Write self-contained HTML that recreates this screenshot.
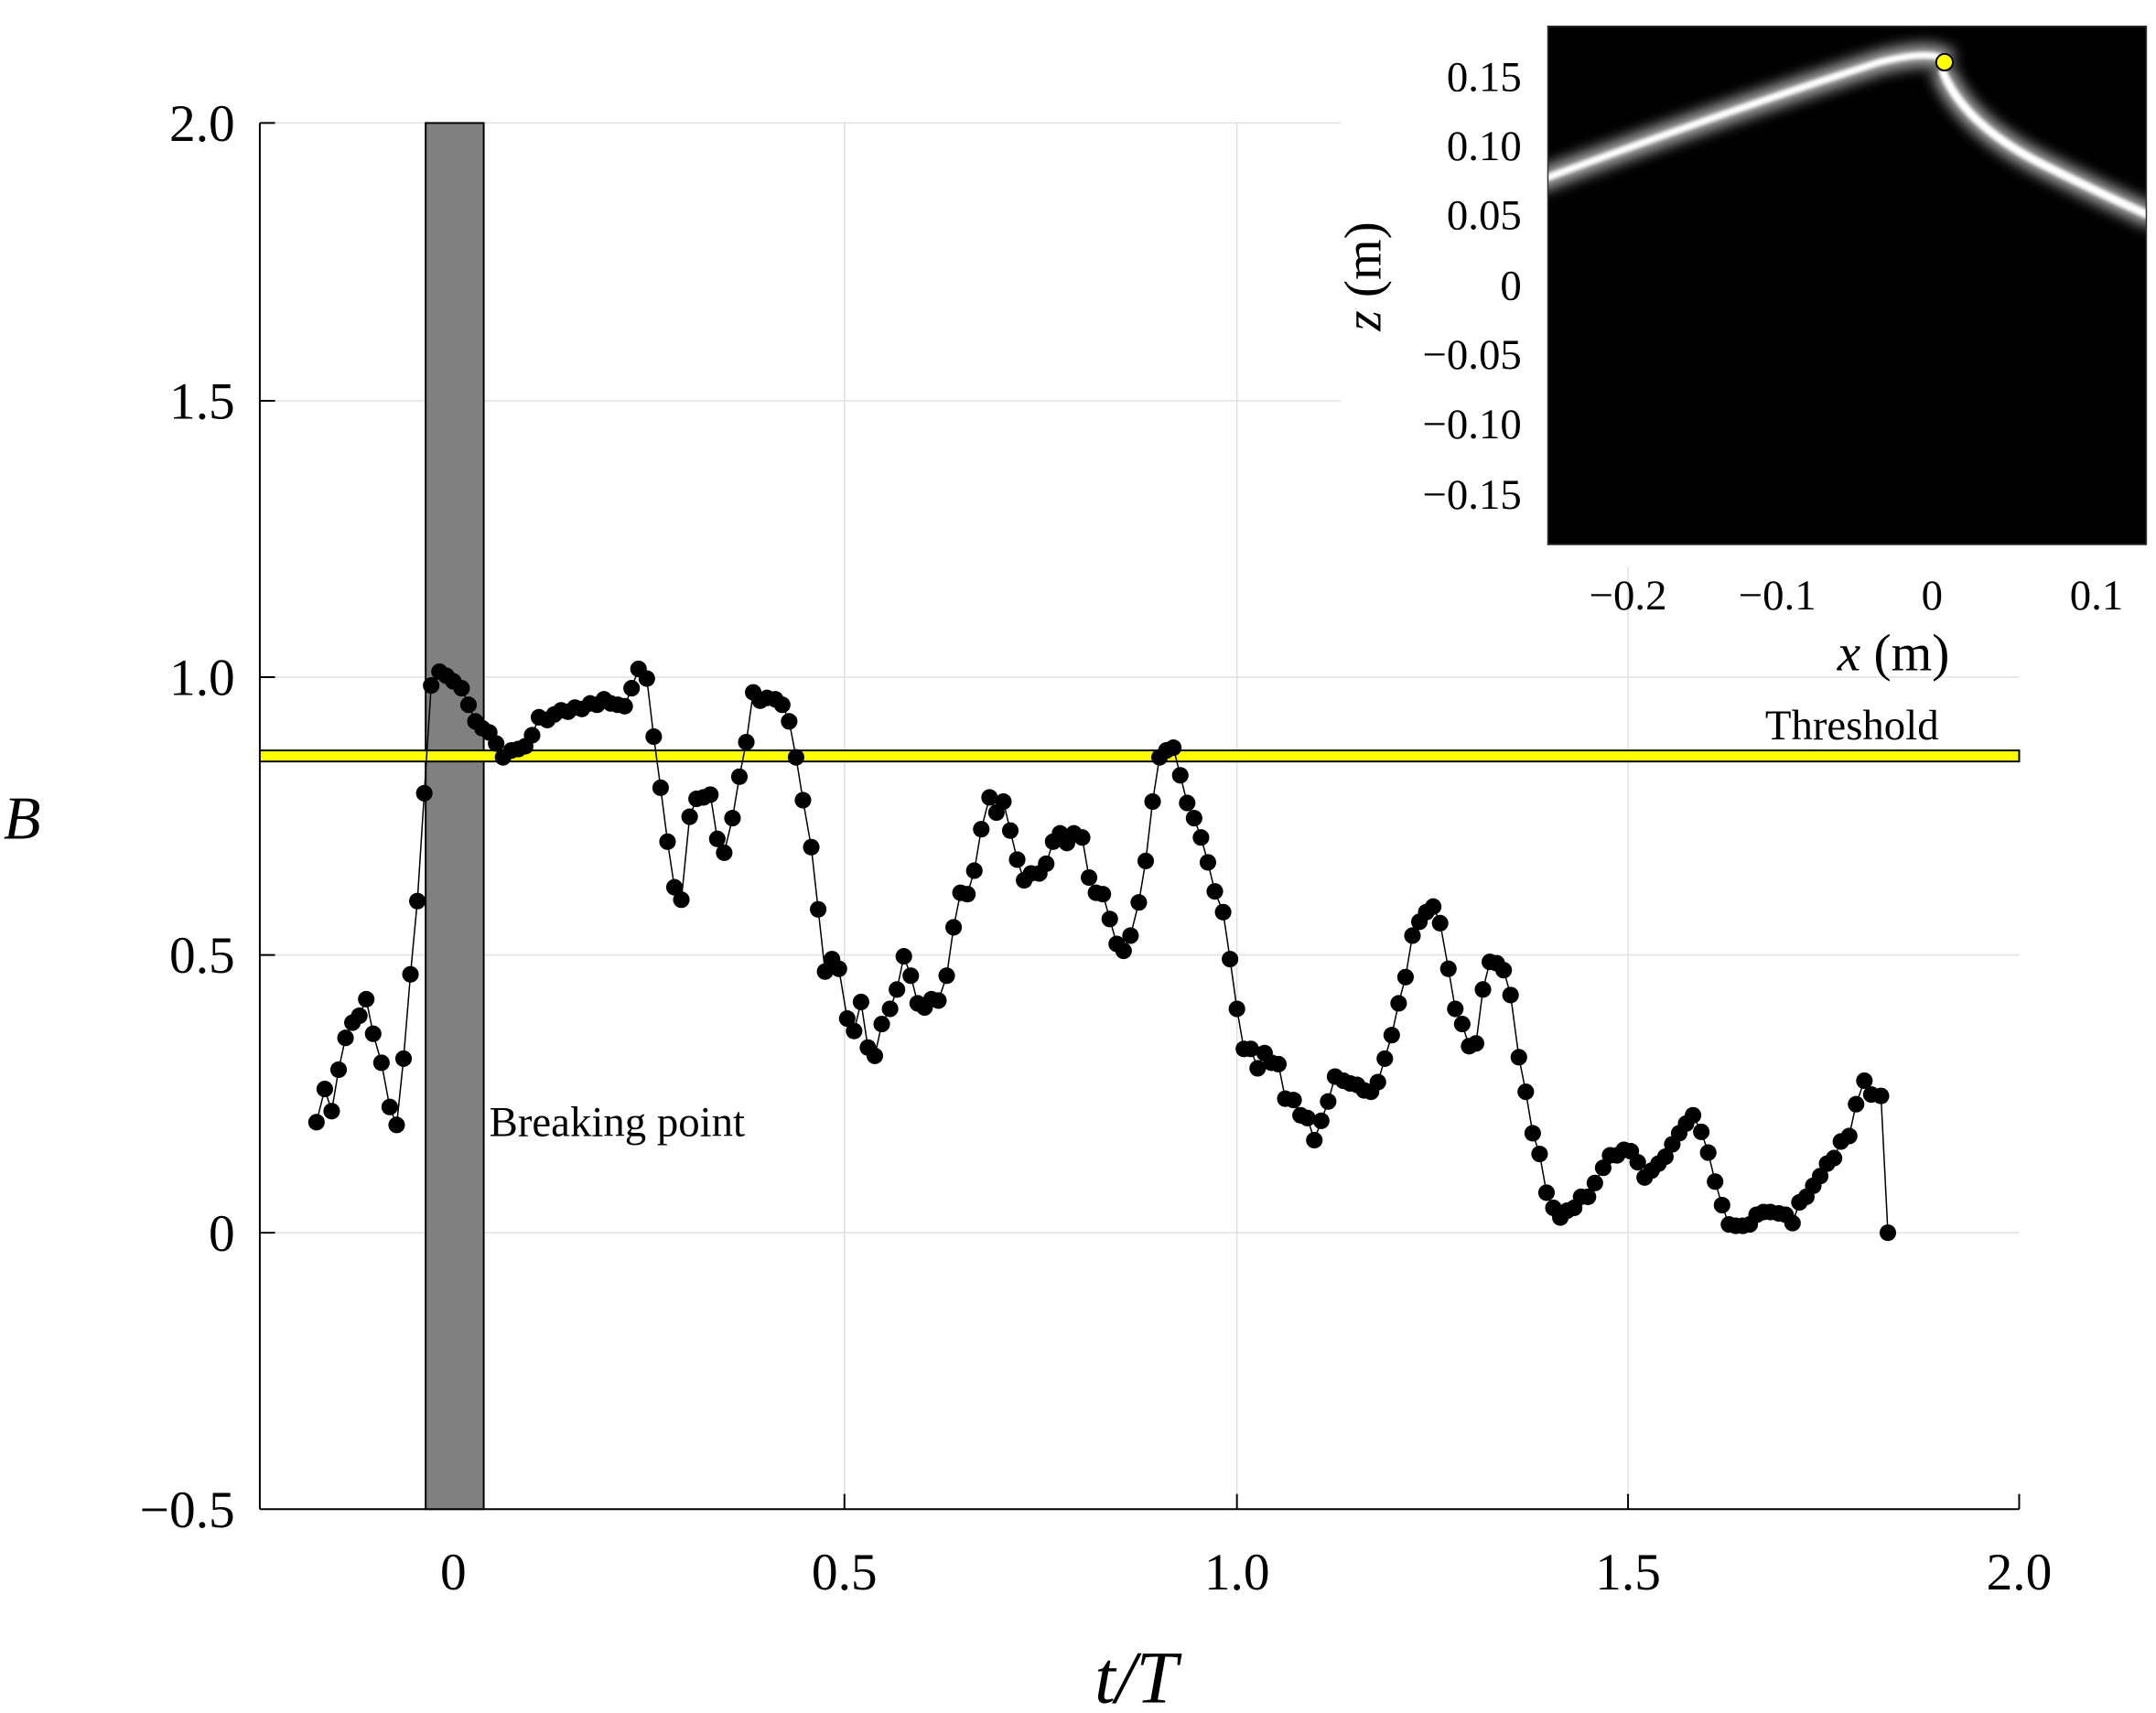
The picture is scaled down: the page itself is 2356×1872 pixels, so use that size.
<!DOCTYPE html>
<html><head><meta charset="utf-8"><style>
html,body{margin:0;padding:0;background:#fff;}
svg{display:block;}
text{font-family:"Liberation Serif",serif;fill:#000;}
</style></head><body>
<svg width="2356" height="1872" viewBox="0 0 1560 1239.5" preserveAspectRatio="none" xmlns="http://www.w3.org/2000/svg">
<defs>
<filter id="glow" x="-20%" y="-20%" width="140%" height="140%"><feGaussianBlur stdDeviation="5"/></filter>
<filter id="g2"><feGaussianBlur stdDeviation="1.3"/></filter>
<clipPath id="ic"><rect x="1120" y="19" width="433" height="375"/></clipPath>
</defs>
<g stroke="#e0e0e0" stroke-width="1">
<line x1="188" y1="89" x2="970" y2="89"/>
<line x1="188" y1="290" x2="970" y2="290"/>
<line x1="188" y1="490" x2="1461" y2="490"/>
<line x1="188" y1="691" x2="1461" y2="691"/>
<line x1="188" y1="892" x2="1461" y2="892"/>
<line x1="611" y1="89" x2="611" y2="1092"/>
<line x1="895" y1="89" x2="895" y2="1092"/>
<line x1="1178" y1="410" x2="1178" y2="1092"/>
</g>
<g stroke="#000" stroke-width="1.3">
<line x1="188" y1="89" x2="188" y2="1092"/>
<line x1="188" y1="1092" x2="1461" y2="1092"/>
<line x1="188" y1="89" x2="199" y2="89"/><line x1="188" y1="290" x2="199" y2="290"/>
<line x1="188" y1="490" x2="199" y2="490"/><line x1="188" y1="691" x2="199" y2="691"/>
<line x1="188" y1="892" x2="199" y2="892"/>
<line x1="328" y1="1092" x2="328" y2="1081"/><line x1="611" y1="1092" x2="611" y2="1081"/>
<line x1="895" y1="1092" x2="895" y2="1081"/><line x1="1178" y1="1092" x2="1178" y2="1081"/>
<line x1="1461" y1="1092" x2="1461" y2="1081"/>
</g>
<g font-size="38" text-anchor="end">
<text x="170" y="102">2.0</text><text x="170" y="303">1.5</text>
<text x="170" y="503">1.0</text><text x="170" y="704">0.5</text>
<text x="170" y="905">0</text><text x="170" y="1105">−0.5</text>
</g>
<g font-size="38" text-anchor="middle">
<text x="328" y="1150">0</text><text x="611" y="1150">0.5</text>
<text x="895" y="1150">1.0</text><text x="1178" y="1150">1.5</text><text x="1461" y="1150">2.0</text>
</g>
<text x="16" y="607" font-size="44" font-style="italic" text-anchor="middle">B</text>
<text x="822" y="1232" font-size="54" font-style="italic" text-anchor="middle">t/T</text>
<rect x="308" y="89" width="42" height="1003" fill="#808080" stroke="#000" stroke-width="1.3"/>
<text x="354" y="822" font-size="31">Breaking point</text>
<rect x="188" y="543" width="1273" height="8" fill="#ffff00" stroke="#000" stroke-width="1.3"/>
<text x="1340" y="535" font-size="31" text-anchor="middle">Threshold</text>
<g id="d"></g>
<rect x="1120" y="19" width="433" height="375" fill="#000"/>
<g clip-path="url(#ic)">
<path d="M1110,132 Q1250,80 1360,45 Q1400,35 1410,45" stroke="#aaa" stroke-width="16" fill="none" filter="url(#glow)"/>
<path d="M1405,50 Q1420,90 1480,120 Q1530,145 1560,158" stroke="#aaa" stroke-width="16" fill="none" filter="url(#glow)"/>
<path d="M1110,132 Q1250,80 1360,45 Q1400,35 1410,45" stroke="#fff" stroke-width="5" fill="none" filter="url(#g2)"/>
<path d="M1405,50 Q1420,90 1480,120 Q1530,145 1560,158" stroke="#fff" stroke-width="6" fill="none" filter="url(#g2)"/>
</g>
<rect x="1120" y="19" width="433" height="375" fill="none" stroke="#333" stroke-width="1"/>
<circle cx="1407" cy="45" r="6" fill="#ffff00" stroke="#000" stroke-width="1.3"/>
<g font-size="31" text-anchor="end">
<text x="1101" y="66">0.15</text><text x="1101" y="116">0.10</text><text x="1101" y="166">0.05</text>
<text x="1101" y="217">0</text><text x="1101" y="267">−0.05</text><text x="1101" y="317">−0.10</text><text x="1101" y="368">−0.15</text>
</g>
<g font-size="31" text-anchor="middle">
<text x="1178" y="441">−0.2</text><text x="1286" y="441">−0.1</text><text x="1398" y="441">0</text><text x="1517" y="441">0.1</text>
</g>
<text x="1370" y="485" font-size="38" text-anchor="middle"><tspan font-style="italic">x</tspan> (m)</text>
<text transform="translate(999,200) rotate(-90)" font-size="38" text-anchor="middle"><tspan font-style="italic">z</tspan> (m)</text>
</svg>
<script>
var p=[[229,812],[235,788],[240,804],[245,774],[250,751],[255,740],[260,735],[265,723],[270,748],[276,769],[282,801],[287,814],[292,766],[297,705],[302,652],[307,574],[312,496],[318,486],[323,489],[328,493],[334,498],[339,510],[344,522],[349,527],[354,530],[359,538],[364,548],[370,543],[375,542],[380,540],[385,532],[390,519],[396,521],[401,517],[406,514],[411,515],[416,512],[421,513],[427,509],[432,510],[437,506],[442,509],[447,510],[452,511],[457,498],[462,484],[468,491],[473,533],[478,570],[483,609],[488,642],[493,651],[499,591],[504,578],[509,577],[514,575],[519,607],[524,617],[530,592],[535,562],[540,537],[545,501],[550,507],[555,505],[561,506],[566,510],[571,522],[576,548],[581,579],[587,613],[592,658],[597,703],[602,694],[607,701],[613,737],[618,746],[623,725],[628,758],[633,764],[638,741],[644,730],[649,716],[654,692],[659,706],[664,726],[669,729],[674,723],[679,724],[685,706],[690,671],[695,646],[700,647],[705,630],[710,600],[716,577],[721,588],[726,580],[731,601],[736,622],[741,637],[746,632],[752,632],[757,625],[762,609],[767,603],[772,610],[777,603],[783,606],[788,635],[793,646],[798,647],[803,665],[808,683],[813,688],[818,677],[824,653],[829,623],[834,580],[839,548],[844,543],[849,541],[854,561],[859,581],[864,592],[869,606],[874,624],[879,645],[885,660],[890,694],[895,730],[900,759],[905,759],[910,773],[915,762],[920,769],[925,770],[930,795],[936,796],[941,807],[946,809],[951,825],[956,811],[961,797],[966,779],[972,782],[977,784],[982,785],[987,789],[992,790],[997,783],[1002,766],[1007,749],[1012,726],[1017,707],[1022,677],[1027,667],[1032,660],[1037,656],[1042,668],[1048,701],[1053,730],[1058,741],[1063,757],[1068,755],[1073,716],[1078,696],[1083,697],[1088,702],[1093,720],[1099,765],[1104,790],[1109,820],[1114,835],[1119,863],[1124,874],[1129,881],[1134,876],[1139,874],[1144,866],[1149,866],[1154,856],[1160,845],[1165,836],[1170,836],[1175,832],[1180,833],[1185,841],[1190,852],[1195,847],[1200,842],[1205,837],[1210,828],[1215,820],[1220,813],[1225,807],[1231,819],[1236,834],[1241,855],[1246,872],[1251,886],[1256,887],[1261,887],[1266,886],[1271,879],[1276,877],[1281,877],[1287,878],[1292,879],[1297,885],[1302,870],[1307,866],[1312,858],[1317,851],[1322,842],[1327,838],[1332,826],[1338,822],[1343,799],[1349,782],[1354,792],[1361,793],[1366,892]];
var ns="http://www.w3.org/2000/svg",g=document.getElementById("d");
var pl=document.createElementNS(ns,"polyline");
pl.setAttribute("points",p.map(function(a){return a.join(",")}).join(" "));
pl.setAttribute("fill","none");pl.setAttribute("stroke","#000");pl.setAttribute("stroke-width","1");
g.appendChild(pl);
p.forEach(function(a){var c=document.createElementNS(ns,"circle");c.setAttribute("cx",a[0]);c.setAttribute("cy",a[1]);c.setAttribute("r","6");c.setAttribute("fill","#000");g.appendChild(c);});
</script>
</body></html>
